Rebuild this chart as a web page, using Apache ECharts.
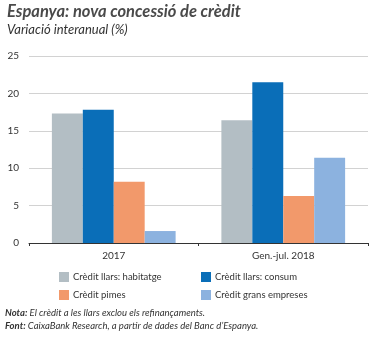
<!DOCTYPE html>
<html>
<head>
<meta charset="utf-8">
<style>
  html, body { margin: 0; padding: 0; background: #fff; }
  #chart { width: 377px; height: 338px; }
</style>
<script src="https://cdn.jsdelivr.net/npm/echarts@6/dist/echarts.min.js"></script>
</head>
<body>
<div id="chart"></div>
<script>
// Periods on the category axis
const categories = ['2017', 'Gen.-jul. 2018'];

// Year-on-year change of new credit (%)
const habitatge = [17.3, 16.4];
const consum = [17.8, 21.5];
const pimes = [8.2, 6.3];
const gransEmpreses = [1.6, 11.4];

const seriesNames = [
  'Crèdit llars: habitatge',
  'Crèdit llars: consum',
  'Crèdit pimes',
  'Crèdit grans empreses'
];
const seriesColors = ['#b3bec4', '#0a6eb8', '#f2996b', '#8cb2df'];

const yTicks = [0, 5, 10, 15, 20, 25];

const FONT = 'Lato, "Open Sans", sans-serif';
const TEXT = '#333';

const chart = echarts.init(document.getElementById('chart'), null, { renderer: 'canvas' });

const values = [habitatge, consum, pimes, gransEmpreses];

chart.setOption({
  animation: false,
  backgroundColor: '#fff',
  textStyle: { fontFamily: FONT },
  grid: { left: 29, right: 9, top: 56, bottom: 95, containLabel: false },
  xAxis: {
    type: 'category',
    data: categories,
    axisLine: { show: true, lineStyle: { color: '#333', width: 1 } },
    axisTick: { show: true, length: 3, lineStyle: { color: '#333' }, alignWithLabel: false },
    axisLabel: { color: TEXT, fontSize: 10, fontFamily: FONT, margin: 8 },
    splitLine: { show: false }
  },
  yAxis: {
    type: 'value',
    min: yTicks[0],
    max: yTicks[yTicks.length - 1],
    interval: 5,
    axisLine: { show: false },
    axisTick: { show: false },
    axisLabel: { color: TEXT, fontSize: 10, fontFamily: FONT, margin: 10 },
    splitLine: { lineStyle: { color: '#d2d2d2', width: 1 } }
  },
  legend: [
    {
      data: [seriesNames[0], seriesNames[2]],
      orient: 'vertical',
      left: 54, top: 267,
      itemWidth: 10, itemHeight: 10, itemGap: 8,
      icon: 'rect',
      textStyle: { color: TEXT, fontSize: 9.5, fontFamily: FONT, padding: [0, 0, 0, -1] }
    },
    {
      data: [seriesNames[1], seriesNames[3]],
      orient: 'vertical',
      left: 196, top: 267,
      itemWidth: 10, itemHeight: 10, itemGap: 8,
      icon: 'rect',
      textStyle: { color: TEXT, fontSize: 9.5, fontFamily: FONT, padding: [0, 0, 0, -1] }
    }
  ],
  series: seriesNames.map((name, i) => ({
    name: name,
    type: 'bar',
    data: values[i],
    barGap: '0%',
    barCategoryGap: '27%',
    itemStyle: { color: seriesColors[i] }
  })),
  graphic: [
    {
      type: 'text', left: 7, top: 3,
      style: {
        text: 'Espanya: nova concessió de crèdit',
        font: 'italic bold 16.5px ' + FONT,
        fill: '#4a4a4a'
      }
    },
    {
      type: 'text', left: 7, top: 23,
      style: {
        text: 'Variació interanual (%)',
        font: 'italic 13px ' + FONT,
        fill: '#333'
      }
    },
    {
      type: 'text', left: 5, top: 308,
      style: {
        text: '{b|Nota:} El crèdit a les llars exclou els refinançaments.',
        font: 'italic 9.5px ' + FONT,
        fill: '#333',
        rich: { b: { font: 'italic bold 9.5px ' + FONT, fill: '#333' } }
      }
    },
    {
      type: 'text', left: 5, top: 321,
      style: {
        text: '{b|Font:} CaixaBank Research, a partir de dades del Banc d’Espanya.',
        font: 'italic 9.5px ' + FONT,
        fill: '#333',
        rich: { b: { font: 'italic bold 9.5px ' + FONT, fill: '#333' } }
      }
    }
  ]
});
</script>
</body>
</html>
